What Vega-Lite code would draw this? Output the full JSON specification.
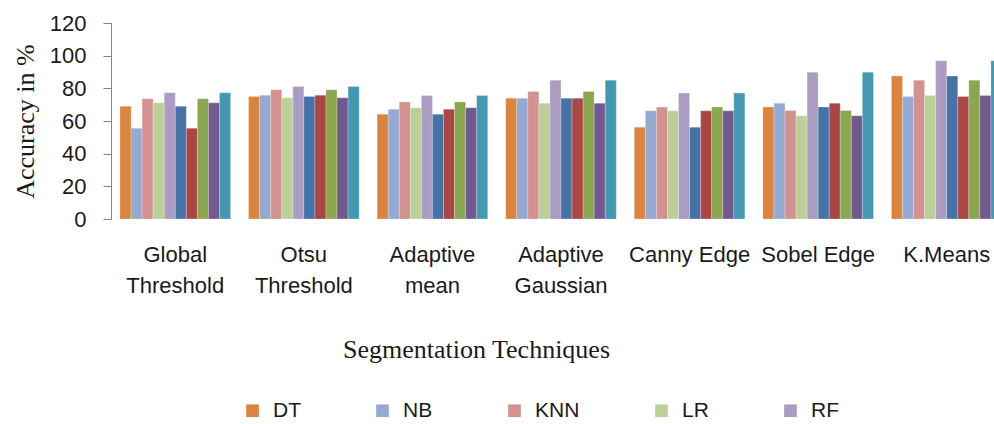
{
  "$schema": "https://vega.github.io/schema/vega-lite/v6.json",
  "autosize": "none",
  "padding": {"left": 111, "top": 23, "right": 0, "bottom": 205},
  "width": 883,
  "height": 196,
  "background": "white",
  "config": {
    "view": {"stroke": null},
    "font": "Liberation Sans"
  },
  "data": {
    "values": [
      {"technique": "Global Threshold", "model": "DT", "accuracy": 69.0},
      {"technique": "Global Threshold", "model": "NB", "accuracy": 55.6},
      {"technique": "Global Threshold", "model": "KNN", "accuracy": 73.6},
      {"technique": "Global Threshold", "model": "LR", "accuracy": 71.1},
      {"technique": "Global Threshold", "model": "RF", "accuracy": 77.3},
      {"technique": "Global Threshold", "model": "DT-2", "accuracy": 69.0},
      {"technique": "Global Threshold", "model": "NB-2", "accuracy": 55.6},
      {"technique": "Global Threshold", "model": "KNN-2", "accuracy": 73.6},
      {"technique": "Global Threshold", "model": "LR-2", "accuracy": 71.1},
      {"technique": "Global Threshold", "model": "RF-2", "accuracy": 77.3},
      {"technique": "Otsu Threshold", "model": "DT", "accuracy": 75.0},
      {"technique": "Otsu Threshold", "model": "NB", "accuracy": 75.8},
      {"technique": "Otsu Threshold", "model": "KNN", "accuracy": 79.1},
      {"technique": "Otsu Threshold", "model": "LR", "accuracy": 74.2},
      {"technique": "Otsu Threshold", "model": "RF", "accuracy": 81.1},
      {"technique": "Otsu Threshold", "model": "DT-2", "accuracy": 75.0},
      {"technique": "Otsu Threshold", "model": "NB-2", "accuracy": 75.8},
      {"technique": "Otsu Threshold", "model": "KNN-2", "accuracy": 79.1},
      {"technique": "Otsu Threshold", "model": "LR-2", "accuracy": 74.2},
      {"technique": "Otsu Threshold", "model": "RF-2", "accuracy": 81.1},
      {"technique": "Adaptive mean", "model": "DT", "accuracy": 64.2},
      {"technique": "Adaptive mean", "model": "NB", "accuracy": 67.2},
      {"technique": "Adaptive mean", "model": "KNN", "accuracy": 71.7},
      {"technique": "Adaptive mean", "model": "LR", "accuracy": 68.1},
      {"technique": "Adaptive mean", "model": "RF", "accuracy": 75.6},
      {"technique": "Adaptive mean", "model": "DT-2", "accuracy": 64.2},
      {"technique": "Adaptive mean", "model": "NB-2", "accuracy": 67.2},
      {"technique": "Adaptive mean", "model": "KNN-2", "accuracy": 71.7},
      {"technique": "Adaptive mean", "model": "LR-2", "accuracy": 68.1},
      {"technique": "Adaptive mean", "model": "RF-2", "accuracy": 75.6},
      {"technique": "Adaptive Gaussian", "model": "DT", "accuracy": 74.0},
      {"technique": "Adaptive Gaussian", "model": "NB", "accuracy": 74.0},
      {"technique": "Adaptive Gaussian", "model": "KNN", "accuracy": 78.1},
      {"technique": "Adaptive Gaussian", "model": "LR", "accuracy": 70.9},
      {"technique": "Adaptive Gaussian", "model": "RF", "accuracy": 85.0},
      {"technique": "Adaptive Gaussian", "model": "DT-2", "accuracy": 74.0},
      {"technique": "Adaptive Gaussian", "model": "NB-2", "accuracy": 74.0},
      {"technique": "Adaptive Gaussian", "model": "KNN-2", "accuracy": 78.1},
      {"technique": "Adaptive Gaussian", "model": "LR-2", "accuracy": 70.9},
      {"technique": "Adaptive Gaussian", "model": "RF-2", "accuracy": 85.0},
      {"technique": "Canny Edge", "model": "DT", "accuracy": 56.2},
      {"technique": "Canny Edge", "model": "NB", "accuracy": 66.2},
      {"technique": "Canny Edge", "model": "KNN", "accuracy": 68.5},
      {"technique": "Canny Edge", "model": "LR", "accuracy": 66.2},
      {"technique": "Canny Edge", "model": "RF", "accuracy": 77.1},
      {"technique": "Canny Edge", "model": "DT-2", "accuracy": 56.2},
      {"technique": "Canny Edge", "model": "NB-2", "accuracy": 66.2},
      {"technique": "Canny Edge", "model": "KNN-2", "accuracy": 68.5},
      {"technique": "Canny Edge", "model": "LR-2", "accuracy": 66.2},
      {"technique": "Canny Edge", "model": "RF-2", "accuracy": 77.1},
      {"technique": "Sobel Edge", "model": "DT", "accuracy": 68.5},
      {"technique": "Sobel Edge", "model": "NB", "accuracy": 70.9},
      {"technique": "Sobel Edge", "model": "KNN", "accuracy": 66.4},
      {"technique": "Sobel Edge", "model": "LR", "accuracy": 63.2},
      {"technique": "Sobel Edge", "model": "RF", "accuracy": 89.9},
      {"technique": "Sobel Edge", "model": "DT-2", "accuracy": 68.5},
      {"technique": "Sobel Edge", "model": "NB-2", "accuracy": 70.9},
      {"technique": "Sobel Edge", "model": "KNN-2", "accuracy": 66.4},
      {"technique": "Sobel Edge", "model": "LR-2", "accuracy": 63.2},
      {"technique": "Sobel Edge", "model": "RF-2", "accuracy": 89.9},
      {"technique": "K.Means", "model": "DT", "accuracy": 87.5},
      {"technique": "K.Means", "model": "NB", "accuracy": 75.0},
      {"technique": "K.Means", "model": "KNN", "accuracy": 85.0},
      {"technique": "K.Means", "model": "LR", "accuracy": 75.6},
      {"technique": "K.Means", "model": "RF", "accuracy": 96.9},
      {"technique": "K.Means", "model": "DT-2", "accuracy": 87.5},
      {"technique": "K.Means", "model": "NB-2", "accuracy": 75.0},
      {"technique": "K.Means", "model": "KNN-2", "accuracy": 85.0},
      {"technique": "K.Means", "model": "LR-2", "accuracy": 75.6},
      {"technique": "K.Means", "model": "RF-2", "accuracy": 96.9}
    ]
  },
  "mark": {"type": "bar", "stroke": "white", "strokeWidth": 0.4, "strokeOpacity": 0.6},
  "encoding": {
    "x": {
      "field": "technique",
      "type": "nominal",
      "sort": null,
      "scale": {"paddingInner": 0.14, "paddingOuter": 0.07, "rangeMax": 900},
      "axis": {
        "domain": false,
        "ticks": false,
        "labelAngle": 0,
        "labelFont": "Liberation Sans",
        "labelFontSize": 22,
        "labelColor": "#1a1a1a",
        "labelBaseline": "top",
        "labelPadding": 25,
        "labelLineHeight": 31,
        "labelExpr": "indexof(datum.label, 'Edge') >= 0 ? datum.label : split(datum.label, ' ')",
        "title": "Segmentation Techniques",
        "titleFont": "Liberation Serif",
        "titleFontSize": 26,
        "titleFontWeight": "normal",
        "titleColor": "#1a1a1a",
        "titleX": 365,
        "titleY": 138,
        "titleAlign": "center",
        "titleBaseline": "alphabetic"
      }
    },
    "xOffset": {
      "field": "model",
      "type": "nominal",
      "sort": ["DT", "NB", "KNN", "LR", "RF", "DT-2", "NB-2", "KNN-2", "LR-2", "RF-2"],
      "scale": {"paddingInner": 0, "paddingOuter": 0}
    },
    "y": {
      "field": "accuracy",
      "type": "quantitative",
      "scale": {"domain": [0, 120], "nice": false, "zero": true},
      "axis": {
        "values": [0, 20, 40, 60, 80, 100, 120],
        "grid": false,
        "domainColor": "#868686",
        "tickColor": "#868686",
        "tickSize": 8,
        "labelFont": "Liberation Sans",
        "labelFontSize": 22,
        "labelColor": "#1a1a1a",
        "labelPadding": 17,
        "title": "Accuracy in %",
        "titleFont": "Liberation Serif",
        "titleFontSize": 26,
        "titleFontWeight": "normal",
        "titleColor": "#1a1a1a",
        "titleAngle": -90,
        "titleX": -78,
        "titleY": 98,
        "titleAlign": "center",
        "titleBaseline": "alphabetic"
      }
    },
    "color": {
      "field": "model",
      "type": "nominal",
      "scale": {
        "domain": ["DT", "NB", "KNN", "LR", "RF", "DT-2", "NB-2", "KNN-2", "LR-2", "RF-2"],
        "range": ["#DB843D", "#95AAD2", "#D39190", "#BBD097", "#AB9CC2", "#4573A8", "#AA4744", "#8AA64F", "#725A90", "#4299B0"]
      },
      "legend": {
        "values": ["DT", "NB", "KNN", "LR", "RF"],
        "title": null,
        "orient": "none",
        "legendX": 131,
        "legendY": 377,
        "direction": "horizontal",
        "columns": 5,
        "columnPadding": 71,
        "symbolType": "square",
        "symbolSize": 160,
        "symbolStrokeWidth": 0,
        "labelFont": "Liberation Sans",
        "labelFontSize": 21,
        "labelColor": "#1a1a1a",
        "labelOffset": 10,
        "padding": 0
      }
    }
  }
}
